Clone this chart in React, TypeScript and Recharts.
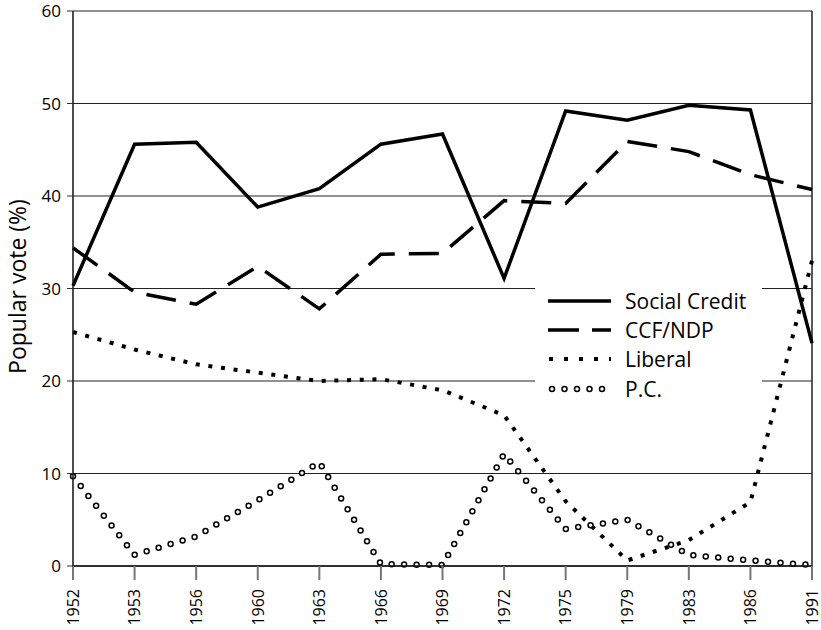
import { LineChart, Line, XAxis, YAxis, CartesianGrid, ReferenceLine, Label } from "recharts";

const years = ["1952", "1953", "1956", "1960", "1963", "1966", "1969", "1972", "1975", "1979", "1983", "1986", "1991"];
const socialCredit = [30.3, 45.6, 45.8, 38.8, 40.8, 45.6, 46.7, 31.1, 49.2, 48.2, 49.8, 49.3, 24.1];
const ccfNdp = [34.4, 29.6, 28.3, 32.4, 27.8, 33.7, 33.8, 39.5, 39.2, 45.9, 44.8, 42.3, 40.7];
const liberal = [25.3, 23.4, 21.8, 20.9, 20.0, 20.2, 19.0, 16.3, 7.0, 0.6, 2.8, 6.9, 33.0];
const pc = [9.7, 1.2, 3.2, 7.1, 11.2, 0.2, 0.1, 12.1, 4.0, 5.0, 1.2, 0.6, 0.1];
const yTicks = [0, 10, 20, 30, 40, 50, 60];
const seriesNames = ["Social Credit", "CCF/NDP", "Liberal", "P.C."];

const font = "'Open Sans', 'Noto Sans', sans-serif";

const data = years.map((year, i) => ({
    year,
    sc: socialCredit[i],
    ccf: ccfNdp[i],
    lib: liberal[i],
    pc: pc[i],
}));

// rotated year labels under the axis
const YearTick = (props: any) => {
    const { x, y, payload } = props;
    return (
        <g transform={`translate(${x},${y})`}>
            <text
                transform="rotate(-90)"
                x={-9}
                y={0}
                dy="0.36em"
                textAnchor="end"
                fontSize={16}
                fontFamily={font}
                fill="#000"
            >
                {payload.value}
            </text>
        </g>
    );
};

const LegendSwatch = ({ index }: { index: number }) => {
    return (
        <svg width={63} height={12} style={{ display: "block" }}>
            {index === 0 && <line x1={0} y1={6} x2={63} y2={6} stroke="#000" strokeWidth={3.5} />}
            {index === 1 && (
                <line x1={0} y1={6} x2={63} y2={6} stroke="#000" strokeWidth={3.5} strokeDasharray="31 13" />
            )}
            {index === 2 && (
                <line x1={1} y1={6} x2={63} y2={6} stroke="#000" strokeWidth={4} strokeDasharray="4 11" />
            )}
            {index === 3 && (
                <>
                    <line x1={4} y1={6} x2={63} y2={6} stroke="#000" strokeWidth={6.5} strokeLinecap="round" strokeDasharray="0 12.5" />
                    <line x1={4} y1={6} x2={63} y2={6} stroke="#fff" strokeWidth={3.5} strokeLinecap="round" strokeDasharray="0 12.5" />
                </>
            )}
        </svg>
    );
};

export default function App() {
    return (
        <div style={{ position: "absolute", left: 0, top: 0, width: 821, height: 630, background: "#fff" }}>
            <LineChart width={821} height={630} data={data} margin={{ top: 11, right: 9, bottom: 10, left: 11 }}>
                <CartesianGrid vertical={false} stroke="#222" strokeWidth={1} />
                <XAxis
                    dataKey="year"
                    height={54}
                    tickSize={14}
                    tickMargin={0}
                    tick={<YearTick />}
                    tickLine={{ stroke: "#777", strokeWidth: 2 }}
                    axisLine={{ stroke: "#111", strokeWidth: 1.5 }}
                    interval={0}
                />
                <YAxis
                    width={62}
                    domain={[0, 60]}
                    ticks={yTicks}
                    tickSize={6}
                    tickMargin={6}
                    tick={{ fontSize: 17, fontFamily: font, fill: "#000" }}
                    tickLine={{ stroke: "#333" }}
                    axisLine={{ stroke: "#111", strokeWidth: 1.5 }}
                >
                    <Label
                        content={(p: any) => {
                            const vb = p.viewBox || { y: 0, height: 0 };
                            const cy = vb.y + vb.height / 2 - 2;
                            return (
                                <text
                                    x={18}
                                    y={cy}
                                    transform={`rotate(-90 18 ${cy})`}
                                    textAnchor="middle"
                                    dy="0.35em"
                                    fontSize={23}
                                    fontFamily={font}
                                    fill="#000"
                                >
                                    Popular vote (%)
                                </text>
                            );
                        }}
                    />
                </YAxis>
                <ReferenceLine x="1991" stroke="#222" strokeWidth={1.5} />
                <Line dataKey="sc" type="linear" stroke="#000" strokeWidth={3.5} dot={false} activeDot={false} isAnimationActive={false} />
                <Line dataKey="ccf" type="linear" stroke="#000" strokeWidth={3.5} strokeDasharray="30 14" dot={false} activeDot={false} isAnimationActive={false} />
                <Line dataKey="lib" type="linear" stroke="#000" strokeWidth={4} strokeDasharray="4 8.7" dot={false} activeDot={false} isAnimationActive={false} />
                <Line dataKey="pc" type="linear" stroke="#000" strokeWidth={6.5} strokeLinecap="round" strokeDasharray="0 12.5" dot={false} activeDot={false} isAnimationActive={false} />
                <Line dataKey="pc" type="linear" stroke="#fff" strokeWidth={3.5} strokeLinecap="round" strokeDasharray="0 12.5" dot={false} activeDot={false} isAnimationActive={false} />
            </LineChart>

            {/* legend box sits over the grid lines */}
            <div
                style={{
                    position: "absolute",
                    left: 535,
                    top: 282,
                    width: 227,
                    height: 120,
                    background: "#fff",
                    paddingTop: 4,
                    boxSizing: "border-box",
                }}
            >
                {seriesNames.map((name, i) => (
                    <div key={name} style={{ display: "flex", alignItems: "center", height: 29.3 }}>
                        <div style={{ marginLeft: 13, width: 63 }}>
                            <LegendSwatch index={i} />
                        </div>
                        <div style={{ marginLeft: 14, fontSize: 21, fontFamily: font, color: "#000", lineHeight: "24px" }}>
                            {name}
                        </div>
                    </div>
                ))}
            </div>
        </div>
    );
}
